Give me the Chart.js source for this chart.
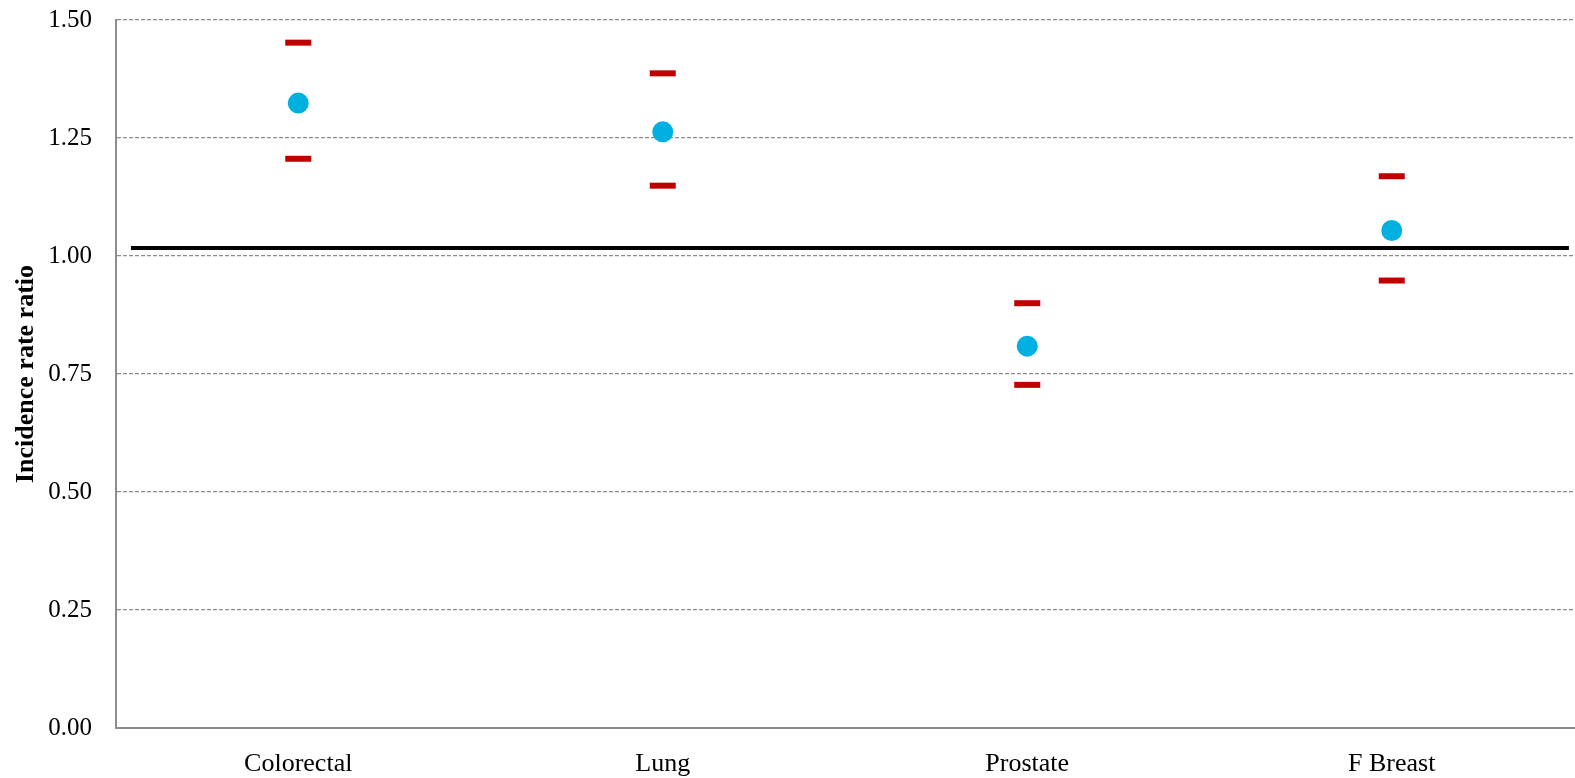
<!DOCTYPE html>
<html>
<head>
<meta charset="utf-8">
<script src="https://cdn.jsdelivr.net/npm/chart.js@4.4.0/dist/chart.umd.min.js"></script>
<style>
  html, body { margin: 0; padding: 0; background: #ffffff; }
  #wrap { width: 1575px; height: 778px; }
</style>
</head>
<body>
<div id="wrap"><canvas id="c" width="1575" height="778"></canvas></div>
<script>
const categories = ['Colorectal', 'Lung', 'Prostate', 'F Breast'];
const irr = [1.324, 1.263, 0.809, 1.054];
const upperCI = [1.452, 1.387, 0.900, 1.169];
const lowerCI = [1.206, 1.149, 0.727, 0.948];
const refLineX = [0.041, 3.986];
const refLineY = [1.017, 1.017];
const yTicks = [0, 0.25, 0.5, 0.75, 1.0, 1.25, 1.5];

const serif = "'Liberation Serif', 'Times New Roman', serif";

new Chart(document.getElementById('c'), {
  type: 'line',
  data: {
    labels: categories,
    datasets: [
      {
        label: 'Reference',
        xAxisID: 'x2',
        data: refLineX.map((x, i) => ({ x: x, y: refLineY[i] })),
        borderColor: '#000000',
        borderWidth: 4,
        pointRadius: 0,
        showLine: true,
        order: 3
      },
      {
        label: 'Upper CI',
        data: upperCI,
        showLine: false,
        pointStyle: 'line',
        pointRadius: 13,
        pointBorderWidth: 6,
        pointBorderColor: '#C00000',
        pointBackgroundColor: '#C00000',
        borderColor: '#C00000',
        order: 1
      },
      {
        label: 'Lower CI',
        data: lowerCI,
        showLine: false,
        pointStyle: 'line',
        pointRadius: 13,
        pointBorderWidth: 6,
        pointBorderColor: '#C00000',
        pointBackgroundColor: '#C00000',
        borderColor: '#C00000',
        order: 1
      },
      {
        label: 'IRR',
        data: irr,
        showLine: false,
        pointStyle: 'circle',
        pointRadius: 10.5,
        pointBorderWidth: 0,
        pointBackgroundColor: '#00B0E0',
        pointBorderColor: '#00B0E0',
        borderColor: '#00B0E0',
        order: 0
      }
    ]
  },
  options: {
    responsive: false,
    animation: false,
    layout: { autoPadding: false, padding: { top: 20, right: 1, left: 0, bottom: 0 } },
    plugins: {
      legend: { display: false },
      tooltip: { enabled: false }
    },
    scales: {
      x: {
        type: 'category',
        offset: true,
        grid: { display: false },
        border: { display: true, color: '#8c8c8c', width: 2 },
        ticks: {
          color: '#000000',
          font: { family: serif, size: 26 },
          padding: 13,
          maxRotation: 0
        },
        afterFit: (s) => { s.height = 50; s.paddingLeft = 0; s.paddingRight = 0; }
      },
      x2: {
        type: 'linear',
        display: false,
        min: 0,
        max: 4
      },
      y: {
        min: 0,
        max: 1.5,
        afterBuildTicks: (s) => { s.ticks = yTicks.map(v => ({ value: v })); },
        grid: { color: '#8c8c8c', lineWidth: 1.2, drawTicks: false },
        border: { display: true, color: '#8c8c8c', width: 2, dash: [4, 2] },
        ticks: {
          color: '#000000',
          font: { family: serif, size: 25 },
          padding: 24,
          callback: (v) => Number(v).toFixed(2)
        },
        title: {
          display: true,
          text: 'Incidence rate ratio',
          color: '#000000',
          font: { family: serif, size: 26, weight: 'bold' },
          padding: { top: 11, bottom: 0 }
        },
        afterFit: (s) => { s.width = 116; s.paddingTop = 0; s.paddingBottom = 0; }
      }
    }
  }
});
</script>
</body>
</html>
